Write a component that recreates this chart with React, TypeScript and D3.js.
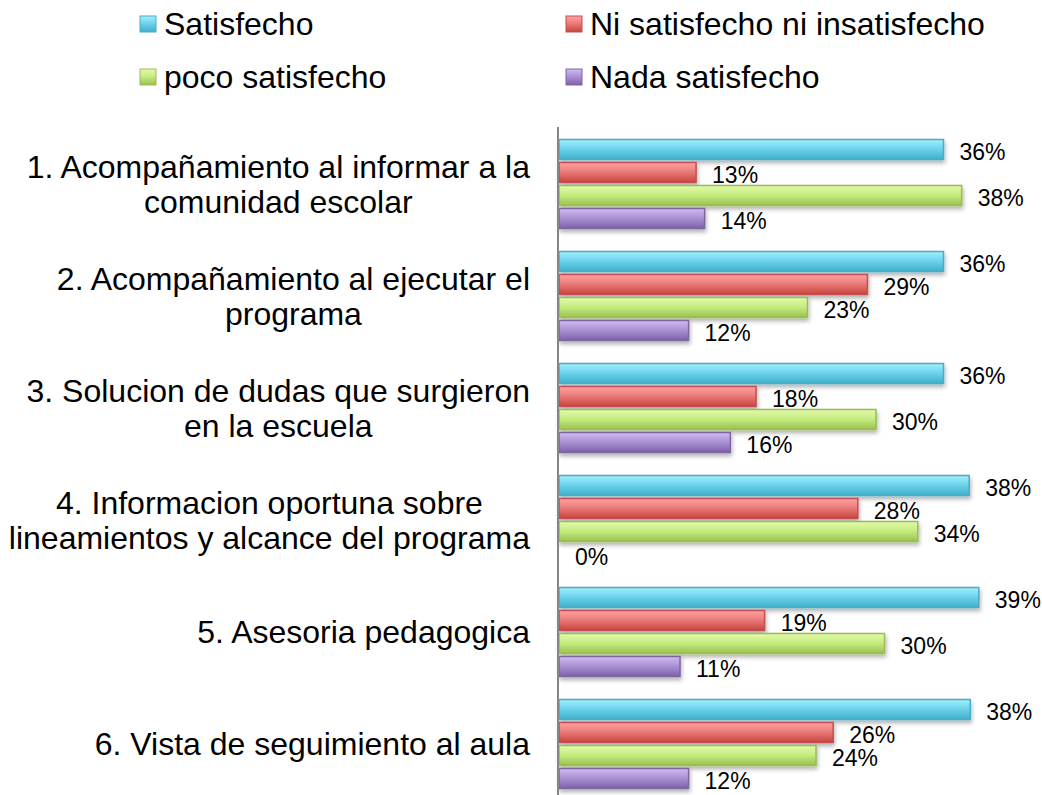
import React, { useEffect, useRef } from 'react';
import * as d3 from 'd3';

const categories = [
  ['1. Acompañamiento al informar a la', 'comunidad escolar'],
  ['2. Acompañamiento al ejecutar el', 'programa'],
  ['3. Solucion de dudas que surgieron', 'en la escuela'],
  ['4. Informacion oportuna sobre', 'lineamientos y alcance del programa'],
  ['5. Asesoria pedagogica'],
  ['6. Vista de seguimiento al aula'],
];

const seriesNames = ['Satisfecho', 'Ni satisfecho ni insatisfecho', 'poco satisfecho', 'Nada satisfecho'];

// percentages (labels show them rounded)
const satisfecho = [35.9, 35.9, 35.9, 38.3, 39.2, 38.4];
const niSatisfecho = [12.8, 28.8, 18.4, 27.9, 19.2, 25.6];
const pocoSatisfecho = [37.6, 23.2, 29.6, 33.5, 30.4, 24.0];
const nadaSatisfecho = [13.6, 12.1, 16.0, 0, 11.3, 12.1];

const colors = [
  { top: '#a4f0fc', mid: '#6fd3ec', bot: '#3fb0cc', stroke: '#4bacc6' },
  { top: '#fca4a4', mid: '#ec7c7a', bot: '#c8433f', stroke: '#c0504d' },
  { top: '#e2fba8', mid: '#c8ec84', bot: '#98c24c', stroke: '#9bbb59' },
  { top: '#d0bcf0', mid: '#ad93d8', bot: '#7e60a8', stroke: '#8064a2' },
];

const font = 'Liberation Sans, Arial, sans-serif';

export default function App() {
  const ref = useRef<SVGSVGElement>(null);

  useEffect(() => {
    const svg = d3.select(ref.current);
    svg.selectAll('*').remove();

    const values = [satisfecho, niSatisfecho, pocoSatisfecho, nadaSatisfecho];
    const ids = categories.map((_, i) => String(i));

    const x = d3.scaleLinear().domain([0, 40]).range([559, 987.4]);
    const y = d3.scaleBand().domain(ids).range([128, 128 + 672]);
    const y1 = d3.scaleBand().domain(seriesNames).range([0, y.bandwidth()])
      .paddingInner(0.13).paddingOuter(0.5);

    // gradients + shadow
    const defs = svg.append('defs');
    colors.forEach((c, i) => {
      const g = defs.append('linearGradient').attr('id', 'grad' + i)
        .attr('x1', 0).attr('y1', 0).attr('x2', 0).attr('y2', 1);
      g.append('stop').attr('offset', '0%').attr('stop-color', c.top);
      g.append('stop').attr('offset', '45%').attr('stop-color', c.mid);
      g.append('stop').attr('offset', '100%').attr('stop-color', c.bot);
    });
    const f = defs.append('filter').attr('id', 'shadow')
      .attr('x', '-5%').attr('y', '-30%').attr('width', '115%').attr('height', '180%');
    f.append('feDropShadow').attr('dx', 1).attr('dy', 3).attr('stdDeviation', 2)
      .attr('flood-color', '#000').attr('flood-opacity', 0.3);

    // legend
    const legend = svg.append('g');
    seriesNames.forEach((name, i) => {
      const lx = i % 2 === 0 ? 140 : 566;
      const ly = i < 2 ? 24 : 77;
      legend.append('rect').attr('x', lx).attr('y', ly - 8).attr('width', 16).attr('height', 16)
        .attr('fill', `url(#grad${i})`).attr('stroke', colors[i].stroke).attr('stroke-width', 1);
      legend.append('text').attr('x', lx + 24).attr('y', ly).attr('dy', '0.35em')
        .attr('font-family', font).attr('font-size', 32).attr('fill', '#000').text(name);
    });

    // bars
    const groups = svg.append('g').selectAll('g').data(ids).join('g')
      .attr('transform', (d) => `translate(0,${y(d)})`);

    seriesNames.forEach((name, s) => {
      groups.append('rect')
        .attr('x', x(0))
        .attr('y', y1(name)!)
        .attr('width', (d) => x(values[s][+d]) - x(0))
        .attr('height', y1.bandwidth())
        .attr('fill', `url(#grad${s})`)
        .attr('stroke', (d) => (values[s][+d] > 0 ? colors[s].stroke : 'none'))
        .attr('stroke-width', 1.5)
        .attr('filter', 'url(#shadow)');

      groups.append('text')
        .attr('x', (d) => x(values[s][+d]) + 16)
        .attr('y', y1(name)! + y1.bandwidth() / 2 + 2)
        .attr('dy', '0.35em')
        .attr('font-family', font).attr('font-size', 23).attr('fill', '#000')
        .text((d) => Math.round(values[s][+d]) + '%');
    });

    // axis line
    svg.append('line').attr('x1', 558).attr('x2', 558).attr('y1', 127).attr('y2', 795)
      .attr('stroke', '#868686').attr('stroke-width', 2);

    // category labels, lines centered on each other, block right-aligned
    categories.forEach((lines, i) => {
      const cy = y(String(i))! + y.bandwidth() / 2;
      const t = svg.append('text').attr('font-family', font).attr('font-size', 32)
        .attr('fill', '#000').attr('text-anchor', 'middle');
      const spans = lines.map((line, k) =>
        t.append('tspan').attr('y', cy + (k - (lines.length - 1) / 2) * 35)
          .attr('dy', '0.35em').text(line));
      const maxW = d3.max(spans, (sp) => (sp.node() as SVGTSpanElement).getComputedTextLength()) || 0;
      spans.forEach((sp) => sp.attr('x', 530 - maxW / 2));
    });
  }, []);

  return (
    <svg ref={ref} width={1042} height={795}
      style={{ position: 'absolute', left: 0, top: 0, background: '#fff' }} />
  );
}
